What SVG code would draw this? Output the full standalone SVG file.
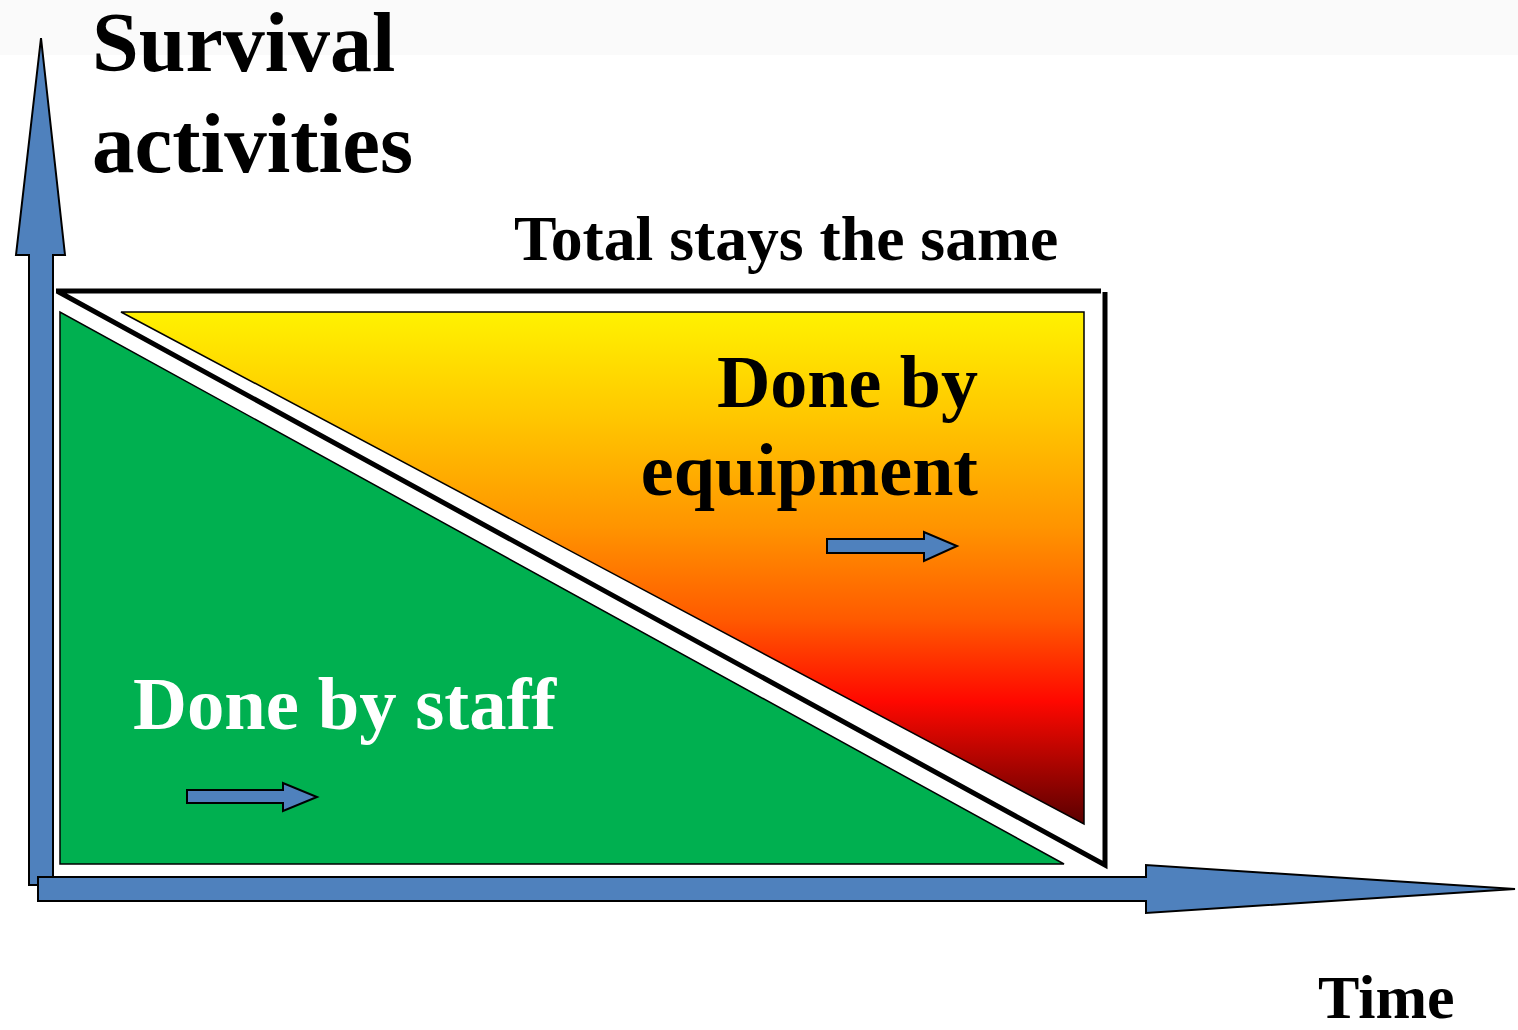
<svg xmlns="http://www.w3.org/2000/svg" width="1518" height="1030" viewBox="0 0 1518 1030">
  <defs>
    <linearGradient id="warm" gradientUnits="userSpaceOnUse" x1="0" y1="312" x2="0" y2="824">
      <stop offset="0" stop-color="#FFF200"/>
      <stop offset="0.2" stop-color="#FFC800"/>
      <stop offset="0.42" stop-color="#FF9400"/>
      <stop offset="0.6" stop-color="#FF5A00"/>
      <stop offset="0.76" stop-color="#FF0800"/>
      <stop offset="1" stop-color="#5A0000"/>
    </linearGradient>
  </defs>
  <style>
    .t { font-family: "Liberation Serif", "Times New Roman", serif; font-weight: bold; }
    .blue { fill: #4F81BD; stroke: #000; stroke-width: 2; stroke-linejoin: miter; }
  </style>
  <rect x="0" y="0" width="1518" height="1030" fill="#fff"/>
  <rect x="0" y="0" width="1518" height="55" fill="#fafafa"/>

  <g id="equipment-area">
    <polygon points="121,312 1084,312 1084,824" fill="url(#warm)" stroke="#000" stroke-width="1.5"/>
  </g>
  <g id="staff-area">
    <polygon points="60,312 60,864 1064,864" fill="#00B050" stroke="#000" stroke-width="1.5"/>
  </g>
  <g id="total-outline">
    <path d="M56,291 L1101,291 M1105,292 L1105,865 L57,291" fill="none" stroke="#000" stroke-width="5"/>
  </g>

  <g id="connectors">
    <polygon id="y-axis" class="blue" points="29,885 29,255 16,255 41,38 65,255 53,255 53,885"/>
    <polygon id="x-axis" class="blue" points="38,877 1146,877 1146,865 1515,889 1146,913 1146,901 38,901"/>
    <polygon id="staff-arrow" class="blue" points="187,790 283,790 283,783 317,797 283,811 283,803 187,803"/>
    <polygon id="equip-arrow" class="blue" points="827,539 924,539 924,532 957,546 924,561 924,553 827,553"/>
  </g>

  <g id="labels">
    <text class="t" x="92" y="71" font-size="84">Survival</text>
    <text class="t" x="92" y="172" font-size="85">activities</text>
    <text class="t" x="514" y="260" font-size="63.7">Total stays the same</text>
    <text class="t" x="978" y="407" font-size="74" text-anchor="end">Done by</text>
    <text class="t" x="978" y="495" font-size="74" text-anchor="end">equipment</text>
    <text class="t" x="133" y="729" font-size="74.7" fill="#fff">Done by staff</text>
    <text class="t" x="1318" y="1018" font-size="62">Time</text>
  </g>
</svg>
